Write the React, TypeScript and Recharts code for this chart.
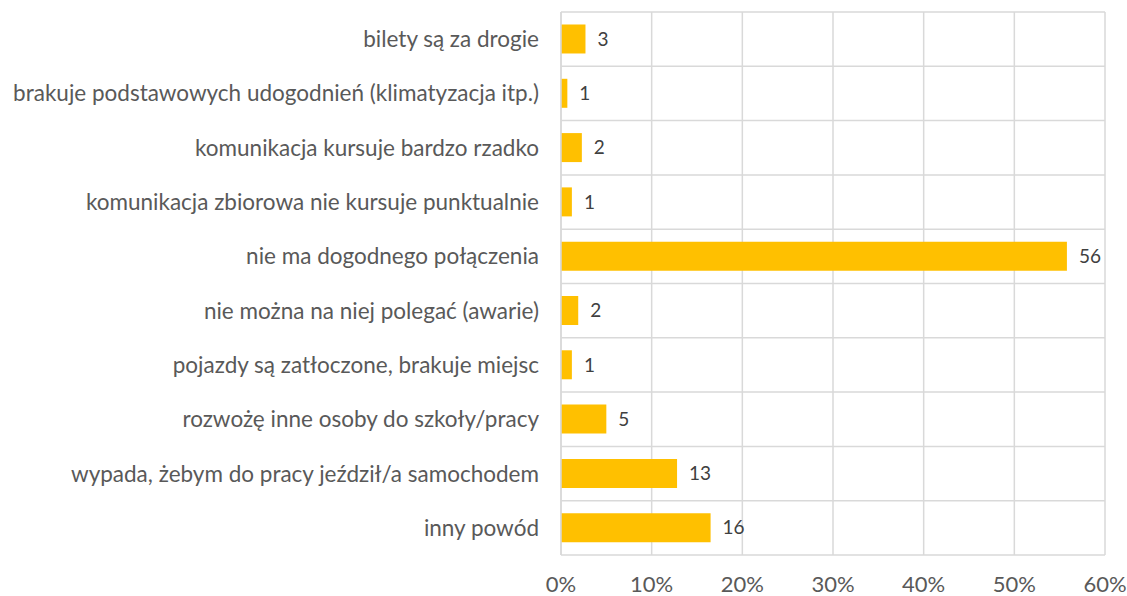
import React from 'react';
import { BarChart, Bar, XAxis, YAxis, CartesianGrid, LabelList } from 'recharts';

const categories = [
  'bilety są za drogie',
  'brakuje podstawowych udogodnień (klimatyzacja itp.)',
  'komunikacja kursuje bardzo rzadko',
  'komunikacja zbiorowa nie kursuje punktualnie',
  'nie ma dogodnego połączenia',
  'nie można na niej polegać (awarie)',
  'pojazdy są zatłoczone, brakuje miejsc',
  'rozwożę inne osoby do szkoły/pracy',
  'wypada, żebym do pracy jeździł/a samochodem',
  'inny powód ',
];
const shares = [2.7, 0.7, 2.3, 1.2, 55.8, 1.9, 1.2, 5.0, 12.8, 16.5];
const labels = ['3', '1', '2', '1', '56', '2', '1', '5', '13', '16'];
const xTicks = [0, 10, 20, 30, 40, 50, 60];

const data = categories.map((c, i) => ({ name: c, value: shares[i], label: labels[i] }));

const FONT = 'Lato, sans-serif';
const GRID = '#d9d9d9';

export default function App() {
  return (
    <div style={{ position: 'absolute', left: 0, top: 0, background: '#fff' }}>
      <BarChart
        width={1127}
        height={596}
        data={data}
        layout="vertical"
        margin={{ top: 12, right: 22, bottom: 0, left: 0 }}
        barCategoryGap="23%"
      >
        <CartesianGrid
          stroke={GRID}
          strokeWidth={1.5}
          vertical
          horizontal
          horizontalCoordinatesGenerator={({ offset }: any) =>
            categories.map((_, i) => offset.top + (offset.height * i) / categories.length).concat([offset.top + offset.height])
          }
        />
        <XAxis
          type="number"
          domain={[0, 60]}
          ticks={xTicks}
          tickFormatter={(v: number) => `${v}%`}
          axisLine={false}
          tickLine={false}
          tickSize={0}
          tickMargin={21}
          height={41}
          interval={0}
          tick={{ fill: '#595959', fontSize: 22, fontFamily: FONT }}
        />
        <YAxis
          type="category"
          dataKey="name"
          width={561}
          axisLine={{ stroke: GRID, strokeWidth: 1.5 }}
          tickLine={false}
          tickSize={0}
          tickMargin={22}
          interval={0}
          tick={{ fill: '#595959', fontSize: 22.5, fontFamily: FONT }}
        />
        <Bar dataKey="value" fill="#FFC000" isAnimationActive={false}>
          <LabelList dataKey="label" position="right" offset={12} fill="#404040" fontSize={19} fontFamily={FONT} />
        </Bar>
      </BarChart>
    </div>
  );
}
